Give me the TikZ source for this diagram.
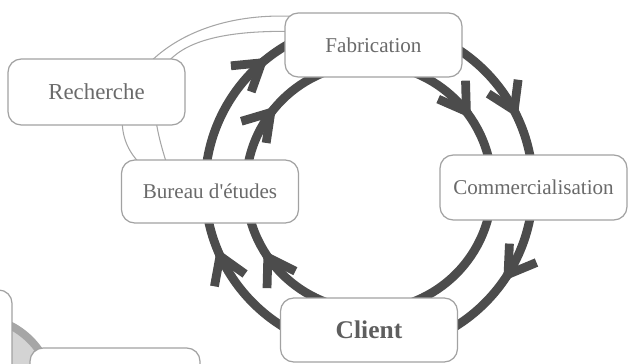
\documentclass[tikz,border=0pt]{standalone}
\usepackage{fontspec}
\setmainfont{Liberation Serif}[Ligatures=TeXOff]
\usepackage{tikz}
\usetikzlibrary{arrows.meta,backgrounds,calc}
\definecolor{cygrey}{HTML}{A2A2A2}
\definecolor{cytext}{HTML}{6A6A6A}
\definecolor{cydark}{HTML}{4C4C4C}
\definecolor{cymid}{HTML}{A6A6A6}
\definecolor{cylight}{HTML}{D4D4D4}
\tikzset{
  box/.style  = {rectangle, rounded corners=7.5pt, draw=cygrey, line width=0.7pt,
                 fill=white, minimum width=3.54cm, minimum height=1.28cm,
                 text=cytext, font=\fontsize{12}{14}\selectfont, inner sep=2pt},
  ring/.style = {draw=cydark, line width=5pt},
  tip/.style  = {ring, -{Straight Barb[length=5.2mm, width=6.6mm]}},
  band/.style = {draw=cymid, line width=0.6pt},
}

\begin{document}
\begin{tikzpicture}[x=0.02cm, y=-0.02cm]
  \useasboundingbox (0,0) rectangle (630,363);
  \clip (0,0) rectangle (630,363);
  \coordinate (ctr) at (369,187);
  \coordinate (disc) at (-25,395);
  % cycle
  \node[box] (fab) at (373.5,45) {Fabrication};
  \node[box, minimum width=3.74cm, minimum height=1.3cm] (com) at (533.5,187.5) {Commercialisation};
  \node[box, font=\fontsize{14.5}{16}\selectfont\bfseries, text=cydark!90] (cli) at (369,330) {Client};
  \node[box, minimum height=1.26cm] (bur) at (210,191.5) {Bureau d'études};
  \node[box, minimum height=1.32cm, font=\fontsize{13}{15}\selectfont] (rec) at (96.5,92) {Recherche};
  % cut off at the edge
  \node[box, minimum width=3.64cm, minimum height=2.8cm] (lft) at (-79,360) {};
  \node[box, minimum width=3.4cm] (bot) at (115,380) {};
  \begin{scope}[on background layer]
    \draw[draw=cymid, fill=cylight, line width=4.5pt] (disc) circle[radius=78];
    \draw[ring] (ctr) circle[radius=164];
    \draw[ring] (ctr) circle[radius=123];
    \foreach \a in {232,335,35,158}
      \draw[tip] ($(ctr)+(\a-6:164)$) arc[start angle=\a-6, end angle=\a, radius=164];
    \foreach \a in {221,326,149}
      \draw[tip] ($(ctr)+(\a-8:123)$) arc[start angle=\a-8, end angle=\a, radius=123];
    \draw[band] ($(bur.north)+(-72,2)$) .. controls +(-48,-52) and +(-140,-7) .. ($(fab.north west)+(10,4)$);
    \draw[band] ($(bur.north)+(-44,2)$) .. controls +(-26,-82) and +(-142,-2) .. ($(fab.north west)+(7,19)$);
  \end{scope}
\end{tikzpicture}
\end{document}
